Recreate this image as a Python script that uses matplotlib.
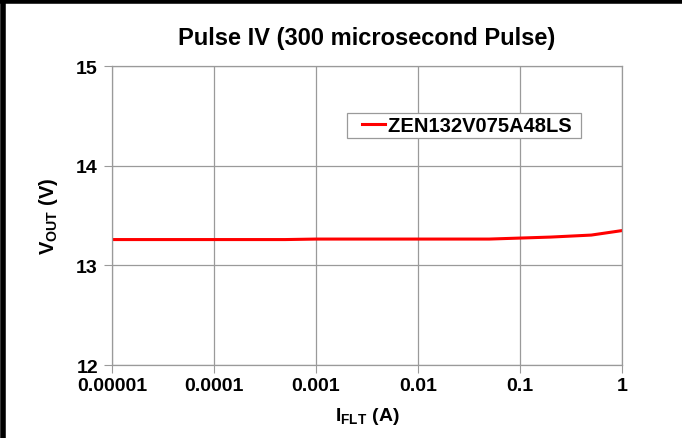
import matplotlib.pyplot as plt
from matplotlib.lines import Line2D
from matplotlib.legend_handler import HandlerLine2D

plt.rcParams['font.family'] = ['Liberation Sans', 'DejaVu Sans']
plt.rcParams['font.weight'] = 'bold'
plt.rcParams['mathtext.fontset'] = 'custom'
plt.rcParams['mathtext.rm'] = 'Liberation Sans:bold'
plt.rcParams['mathtext.it'] = 'Liberation Sans:bold'
plt.rcParams['mathtext.bf'] = 'Liberation Sans:bold'

# data
current = [1e-5, 1e-4, 5e-4, 1e-3, 0.01, 0.05, 0.1, 0.2, 0.5, 1.0]
vout = [13.26, 13.26, 13.26, 13.265, 13.265, 13.265, 13.275, 13.285, 13.305, 13.35]
xticks = [1e-5, 1e-4, 1e-3, 1e-2, 1e-1, 1]
xlabels = ['0.00001', '0.0001', '0.001', '0.01', '0.1', '1']
yticks = [12, 13, 14, 15]

fig = plt.figure(figsize=(6.82, 4.39), dpi=100)
ax = fig.add_axes([0.164, 0.166, 0.748, 0.681])

line, = ax.plot(current, vout, color='#ff0000', lw=2.2, label='ZEN132V075A48LS ')
ax.set_xscale('log')
ax.set_xlim(1e-5, 1)
ax.set_ylim(12, 15)
ax.set_xticks(xticks)
ax.set_xticklabels(xlabels)
ax.minorticks_off()
ax.set_yticks(yticks)
ax.grid(True, color='#9a9a9a', lw=0.9)
for s in ax.spines.values():
    s.set_color('#9a9a9a')
    s.set_linewidth(0.9)
ax.tick_params(direction='out', length=6, color='#9a9a9a', labelsize=14, pad=2)
ax.tick_params(axis='y', pad=4)
ax.tick_params(axis='x', pad=2.5)

ax.set_title('Pulse IV (300 microsecond Pulse)', fontsize=17, fontweight='bold', pad=16)
ax.set_xlabel(r'I$_{\mathrm{FLT}}$ (A)', fontsize=14, fontweight='bold', labelpad=8)
ax.set_ylabel(r'V$_{\mathrm{OUT}}$ (V)', fontsize=14.5, fontweight='bold', labelpad=12)

leg = ax.legend(handles=[line], loc='upper left', bbox_to_anchor=(0.461, 0.843), fancybox=False,
                framealpha=1, edgecolor='#9a9a9a', handlelength=1.75, handletextpad=0.15,
                borderpad=0.15, borderaxespad=0, prop={'size': 14.5, 'weight': 'bold'},
                handler_map={line: HandlerLine2D(xpad=0.6)})
leg.get_frame().set_linewidth(0.9)

# outer black frame (left and top visible)
fig.add_artist(Line2D([0.004, 0.004], [0, 1], color='black', lw=4, transform=fig.transFigure))
fig.add_artist(Line2D([0, 1], [0.995, 0.995], color='black', lw=4, transform=fig.transFigure))

fig.savefig('out.png', dpi=100)
